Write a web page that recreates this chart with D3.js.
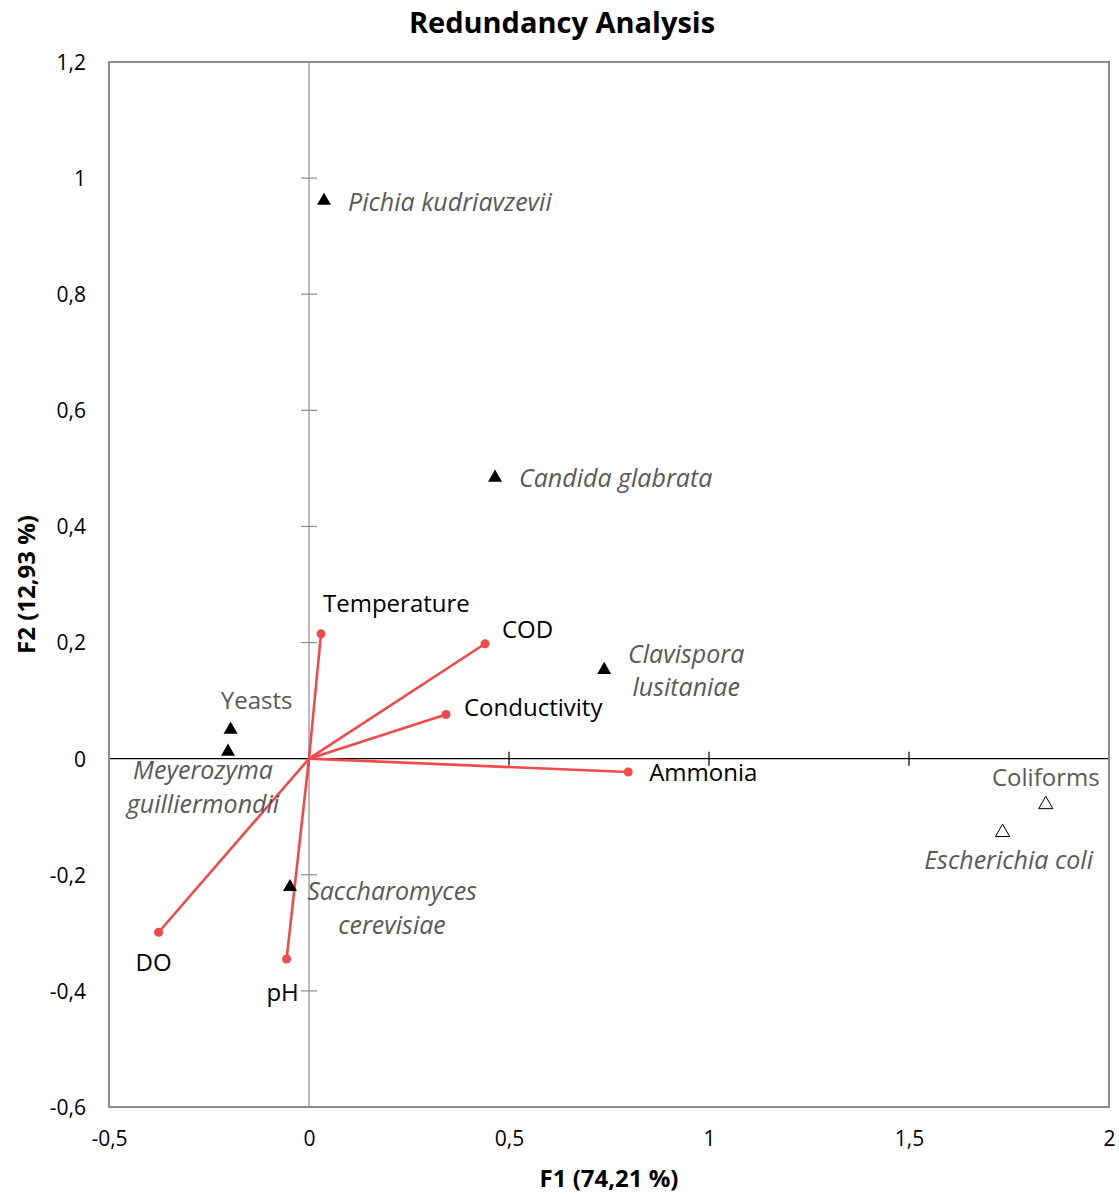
<!DOCTYPE html>
<html><head><meta charset="utf-8">
<script src="https://cdn.jsdelivr.net/npm/d3@7"></script>
<style>
body{margin:0;background:#fff;}
text{font-family:"Open Sans",sans-serif;}
</style></head>
<body>
<svg id="chart" width="1119" height="1194"></svg>
<script>
// ---- data ----
const speciesNames = ["Pichia kudriavzevii","Candida glabrata","Clavispora lusitaniae","Yeasts","Meyerozyma guilliermondii","Saccharomyces cerevisiae","Coliforms","Escherichia coli"];
const speciesF1 = [0.0375, 0.465, 0.738, -0.196, -0.2025, -0.0475, 1.842, 1.734];
const speciesF2 = [0.961, 0.484, 0.153, 0.050, 0.012, -0.221, -0.079, -0.127];
const speciesGroup = ["yeast","yeast","yeast","yeast","yeast","yeast","bacteria","bacteria"];
const variableNames = ["Temperature","COD","Conductivity","Ammonia","DO","pH"];
const variableF1 = [0.030, 0.440, 0.3425, 0.798, -0.376, -0.056];
const variableF2 = [0.215, 0.198, 0.076, -0.023, -0.299, -0.345];
const xTicks = [-0.5, 0, 0.5, 1, 1.5, 2];
const yTicks = [-0.6, -0.4, -0.2, 0, 0.2, 0.4, 0.6, 0.8, 1, 1.2];
const chartTitle = "Redundancy Analysis";
const xTitle = "F1 (74,21 %)";
const yTitle = "F2 (12,93 %)";

// ---- layout (label placement, pixels) ----
const speciesLabelLayout = {
  "Pichia kudriavzevii": {lines:["Pichia kudriavzevii"], dx:24, dy:[1], anchor:"start", italic:true},
  "Candida glabrata": {lines:["Candida glabrata"], dx:24, dy:[1], anchor:"start", italic:true},
  "Clavispora lusitaniae": {lines:["Clavispora","lusitaniae"], dx:82, dy:[-16,17], anchor:"middle", italic:true},
  "Yeasts": {lines:["Yeasts"], dx:26, dy:[-29], anchor:"middle", italic:false},
  "Meyerozyma guilliermondii": {lines:["Meyerozyma","guilliermondii"], dx:-25, dy:[19,53], anchor:"middle", italic:true},
  "Saccharomyces cerevisiae": {lines:["Saccharomyces","cerevisiae"], dx:102, dy:[4,38], anchor:"middle", italic:true},
  "Coliforms": {lines:["Coliforms"], dx:0, dy:[-27], anchor:"middle", italic:false},
  "Escherichia coli": {lines:["Escherichia coli"], dx:6, dy:[28], anchor:"middle", italic:true}
};
const variableLabelLayout = {
  "Temperature": {dx:2, dy:-30, anchor:"start"},
  "COD": {dx:17, dy:-14, anchor:"start"},
  "Conductivity": {dx:18, dy:-7, anchor:"start"},
  "Ammonia": {dx:21, dy:1, anchor:"start"},
  "DO": {dx:-5, dy:30, anchor:"middle"},
  "pH": {dx:-4, dy:34, anchor:"middle"}
};

const svg = d3.select("#chart");
const m = {left:109, right:1109, top:62, bottom:1107};
const x = d3.scaleLinear().domain([-0.5, 2]).range([m.left, m.right]);
const y = d3.scaleLinear().domain([-0.6, 1.2]).range([m.bottom, m.top]);
const fmt = d => String(+d.toFixed(1)).replace(".", ",");

const frameColor = "#8c8c8c";
const red = "#f24a4a";
const labelGray = "#595959";

// Title
svg.append("text").attr("x", 562).attr("y", 33).attr("text-anchor","middle")
  .attr("font-weight","bold").attr("font-size", 29).attr("fill","#000").text(chartTitle);

// Tick labels via axes (no domain/ticks drawn)
const yAxis = d3.axisLeft(y).tickValues(yTicks).tickFormat(fmt).tickSize(0).tickPadding(23);
const gy = svg.append("g").attr("transform", `translate(${m.left},0)`).call(yAxis);
gy.select(".domain").remove();
gy.selectAll("text").attr("font-size", 21).attr("fill","#000").attr("font-family","'Open Sans',sans-serif").attr("dy","0.35em");

const xAxis = d3.axisBottom(x).tickValues(xTicks).tickFormat(fmt).tickSize(0).tickPadding(24);
const gx = svg.append("g").attr("transform", `translate(0,${m.bottom})`).call(xAxis);
gx.select(".domain").remove();
gx.selectAll("text").attr("font-size", 21).attr("fill","#000").attr("font-family","'Open Sans',sans-serif");

// Zero axis (vertical, gray) with ticks
svg.append("line").attr("x1", x(0)).attr("x2", x(0)).attr("y1", m.top).attr("y2", m.bottom)
  .attr("stroke", frameColor).attr("stroke-width", 1.2);
svg.append("g").selectAll("line").data(yTicks).join("line")
  .attr("x1", x(0)-8).attr("x2", x(0)+8).attr("y1", d=>y(d)).attr("y2", d=>y(d))
  .attr("stroke", frameColor).attr("stroke-width", 1.2);

// Zero axis (horizontal, black) with ticks
svg.append("line").attr("x1", m.left).attr("x2", m.right).attr("y1", y(0)).attr("y2", y(0))
  .attr("stroke", "#000").attr("stroke-width", 1.2);
svg.append("g").selectAll("line").data(xTicks).join("line")
  .attr("x1", d=>x(d)).attr("x2", d=>x(d)).attr("y1", y(0)-7).attr("y2", y(0)+7)
  .attr("stroke", "#000").attr("stroke-width", 1.2);

// Frame
svg.append("rect").attr("x", m.left).attr("y", m.top).attr("width", m.right-m.left).attr("height", m.bottom-m.top)
  .attr("fill","none").attr("stroke", frameColor).attr("stroke-width", 2);

// Axis titles
svg.append("text").attr("x", (m.left+m.right)/2).attr("y", 1187).attr("text-anchor","middle")
  .attr("font-weight","bold").attr("font-size", 24).attr("fill","#000").text(xTitle);
svg.append("text").attr("transform", `translate(35,${(m.top+m.bottom)/2}) rotate(-90)`).attr("text-anchor","middle")
  .attr("font-weight","bold").attr("font-size", 24).attr("fill","#000").text(yTitle);

// Variable vectors
const vars = variableNames.map((n,i)=>({name:n, f1:variableF1[i], f2:variableF2[i]}));
const gv = svg.append("g");
gv.selectAll("line").data(vars).join("line")
  .attr("x1", x(0)).attr("y1", y(0)).attr("x2", d=>x(d.f1)).attr("y2", d=>y(d.f2))
  .attr("stroke", red).attr("stroke-width", 2.6);
gv.selectAll("circle").data(vars).join("circle")
  .attr("cx", d=>x(d.f1)).attr("cy", d=>y(d.f2)).attr("r", 4.5).attr("fill", red);
gv.selectAll("text").data(vars).join("text")
  .attr("x", d=>x(d.f1)+variableLabelLayout[d.name].dx)
  .attr("y", d=>y(d.f2)+variableLabelLayout[d.name].dy)
  .attr("dy","0.35em").attr("text-anchor", d=>variableLabelLayout[d.name].anchor)
  .attr("font-size", 24).attr("fill","#000").text(d=>d.name);

// Species points
const sp = speciesNames.map((n,i)=>({name:n, f1:speciesF1[i], f2:speciesF2[i], group:speciesGroup[i]}));
const tri = d3.symbol().type(d3.symbolTriangle).size(85);
const triOpen = d3.symbol().type(d3.symbolTriangle).size(88);
const gs = svg.append("g");
gs.selectAll("path").data(sp).join("path")
  .attr("transform", d=>`translate(${x(d.f1)},${y(d.f2)})`)
  .attr("d", d=> d.group==="yeast" ? tri() : triOpen())
  .attr("fill", d=> d.group==="yeast" ? "#000" : "#fff")
  .attr("stroke", "#000").attr("stroke-width", d=> d.group==="yeast" ? 0 : 1);
sp.forEach(d=>{
  const L = speciesLabelLayout[d.name];
  L.lines.forEach((line,k)=>{
    gs.append("text").attr("x", x(d.f1)+L.dx).attr("y", y(d.f2)+L.dy[k]).attr("dy","0.35em")
      .attr("text-anchor", L.anchor).attr("font-size", L.italic ? 25 : 24)
      .attr("font-style", L.italic ? "italic" : "normal")
      .attr("fill", labelGray).text(line);
  });
});
</script>
</body></html>
